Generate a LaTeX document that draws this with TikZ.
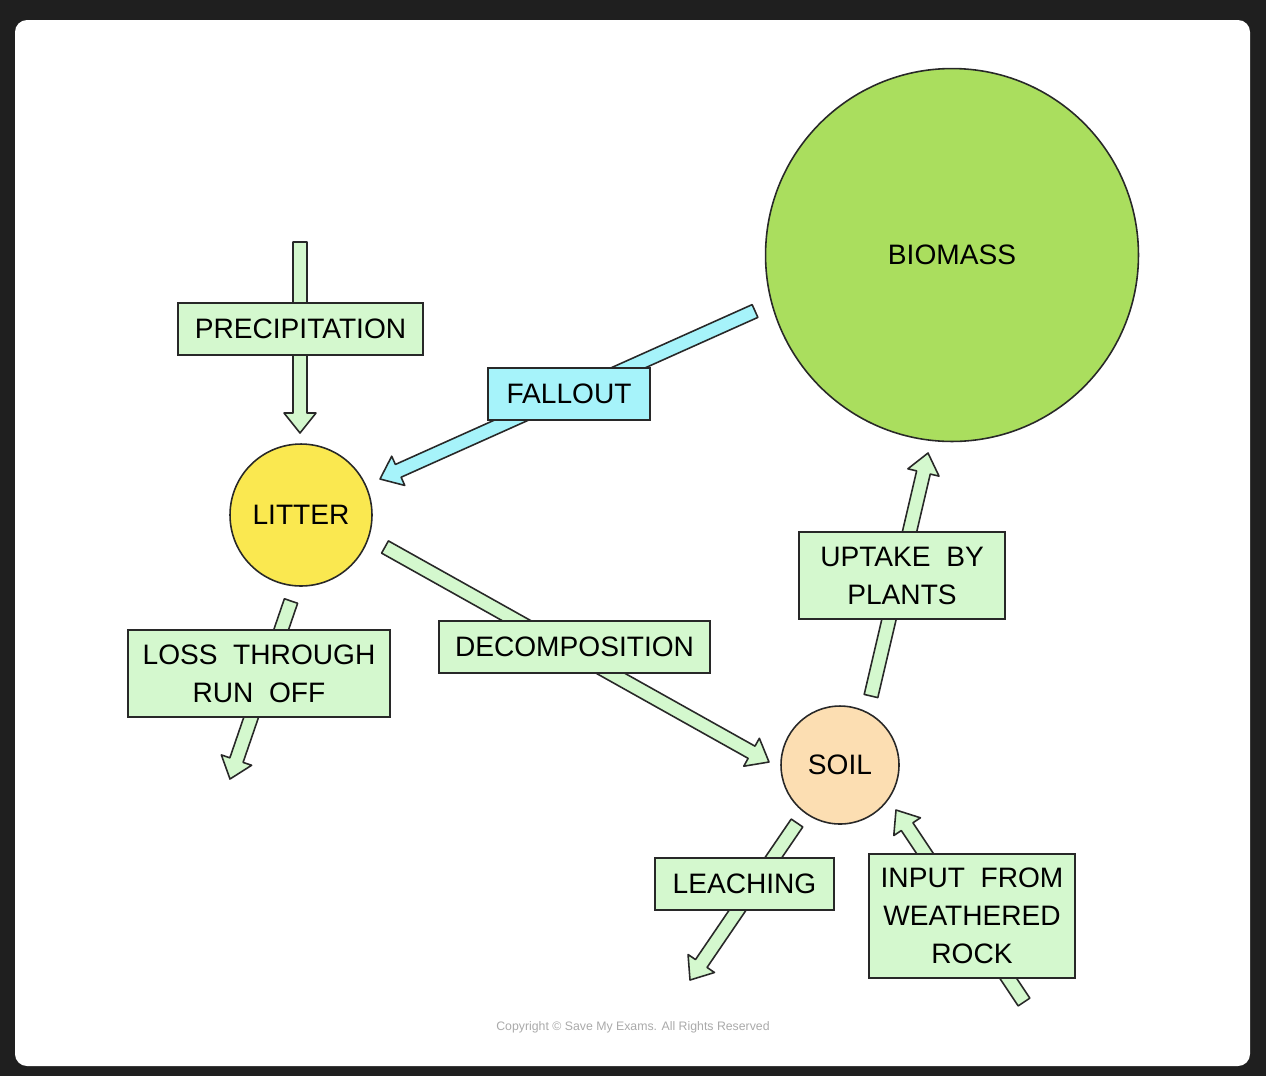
\documentclass[tikz,border=0pt]{standalone}
\usepackage{fontspec}
\setmainfont{Liberation Sans}
\usetikzlibrary{calc}
\definecolor{frame}{RGB}{31,31,31}
\definecolor{arrgreen}{RGB}{212,248,206}
\definecolor{arrcyan}{RGB}{166,243,250}
\definecolor{biogreen}{RGB}{170,222,94}
\definecolor{litteryellow}{RGB}{250,232,80}
\definecolor{soilpeach}{RGB}{252,222,178}
\definecolor{ink}{RGB}{40,40,40}
\definecolor{copygray}{RGB}{170,170,170}
\tikzset{
  lbl/.style={draw=ink, line width=0.9pt, fill=arrgreen, inner sep=0pt, align=center,
    font=\fontsize{16}{21.6}\selectfont, text=black},
  pool/.style={circle, draw=ink, line width=0.9pt, inner sep=0pt,
    font=\fontsize{16}{21.6}\selectfont, text=black},
}
\newcommand\blockarrow[3]{%
  \coordinate (#1-hb) at ($(#2)!0.4cm!(#1)$);
  \draw[draw=ink, line width=0.9pt, line join=round, fill=#3]
    ($(#1)!0.14cm!90:(#2)$) -- ($(#1-hb)!0.14cm!90:(#2)$) -- ($(#1-hb)!0.32cm!90:(#2)$)
    -- (#2) -- ($(#1-hb)!0.32cm!-90:(#2)$) -- ($(#1-hb)!0.14cm!-90:(#2)$)
    -- ($(#1)!0.14cm!-90:(#2)$) -- cycle;}
\begin{document}
\begin{tikzpicture}[x=0.02cm, y=-0.02cm]
\fill[frame] (0,0) rectangle (1266,1076);
\fill[white, rounded corners=0.24cm] (15,20) rectangle (1250,1066);
\useasboundingbox (0,0) rectangle (1266,1076);

% pools
\node[pool, fill=biogreen, minimum size=7.46cm] (biomass) at (952,255) {BIOMASS};
\node[pool, fill=litteryellow, minimum size=2.84cm] (litter) at (301,515) {LITTER};
\node[pool, fill=soilpeach, minimum size=2.36cm] (soil) at (840,765) {SOIL};

% arrow end points
\coordinate (p1) at (300,242);  \coordinate (p2) at (300,433);
\coordinate (f1) at (755,311);  \coordinate (f2) at (380,479);
\coordinate (d1) at (385,547);  \coordinate (d2) at (769,762);
\coordinate (r1) at (291,601);  \coordinate (r2) at (230,779);
\coordinate (u1) at (871,696);  \coordinate (u2) at (928,453);
\coordinate (l1) at (797,823);  \coordinate (l2) at (690,980);
\coordinate (i1) at (1024,1002); \coordinate (i2) at (896,810);

\blockarrow{p1}{p2}{arrgreen}
\blockarrow{f1}{f2}{arrcyan}
\blockarrow{d1}{d2}{arrgreen}
\blockarrow{r1}{r2}{arrgreen}
\blockarrow{u1}{u2}{arrgreen}
\blockarrow{l1}{l2}{arrgreen}
\blockarrow{i1}{i2}{arrgreen}

% labels
\node[lbl, minimum width=4.9cm, minimum height=1.04cm] (precip) at (300.5,329) {PRECIPITATION};
\node[lbl, fill=arrcyan, minimum width=3.24cm, minimum height=1.04cm] (fallout) at (569,394) {FALLOUT};
\node[lbl, minimum width=5.42cm, minimum height=1.04cm] (decomp) at (574.5,647) {DECOMPOSITION};
\node[lbl, minimum width=5.24cm, minimum height=1.74cm] (runoff) at (259,673.5) {LOSS\ \ THROUGH\\RUN\ \ OFF};
\node[lbl, minimum width=4.12cm, minimum height=1.74cm] (uptake) at (902,575.5) {UPTAKE\ \ BY\\PLANTS};
\node[lbl, minimum width=3.58cm, minimum height=1.04cm] (leach) at (744.5,884) {LEACHING};
\node[lbl, minimum width=4.12cm, minimum height=2.48cm] (input) at (972,916) {INPUT\ \ FROM\\WEATHERED\\ROCK};

\node[font=\fontsize{7}{8}\selectfont, text=copygray] (copy) at (633,1027) {Copyright © Save My Exams. All Rights Reserved};
\end{tikzpicture}
\end{document}
